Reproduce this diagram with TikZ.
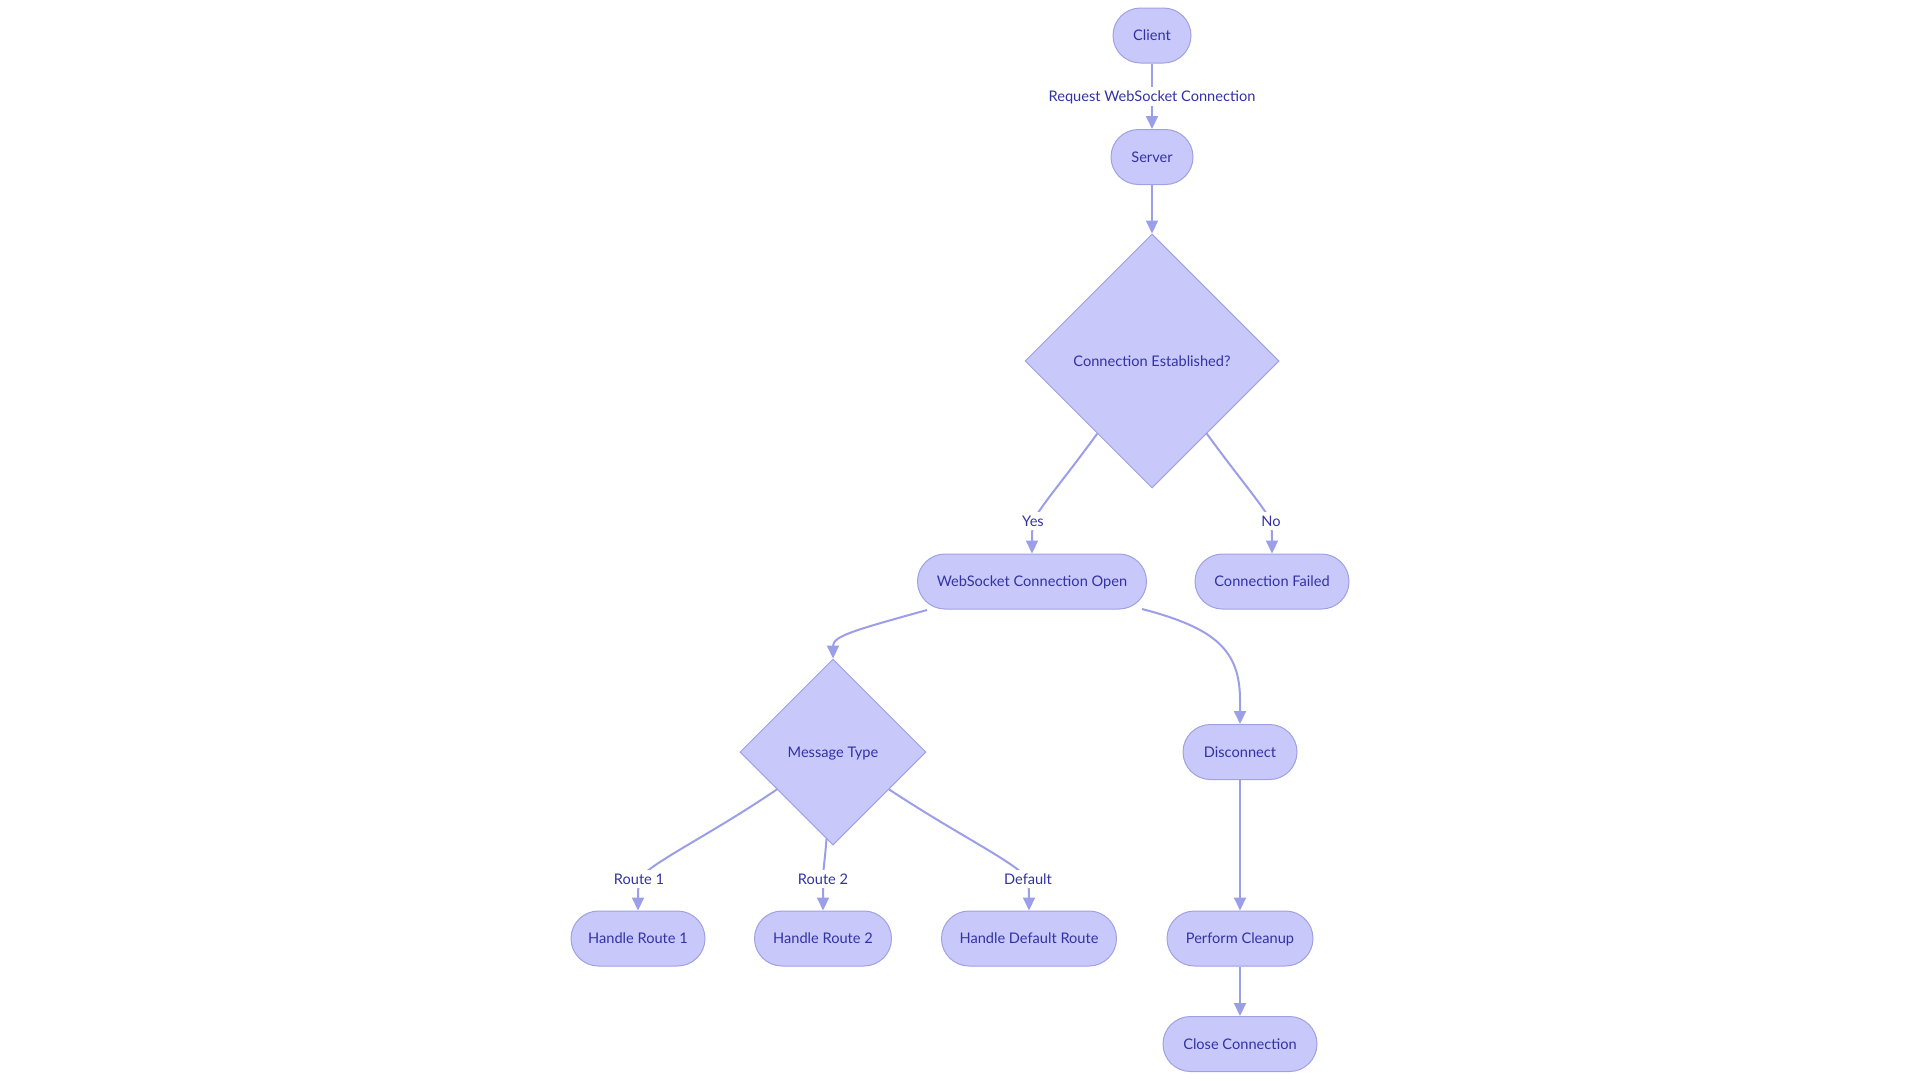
\documentclass[tikz,border=0pt]{standalone}
\usepackage{fontspec}
\setmainfont{Lato}
\usetikzlibrary{shapes.geometric,arrows.meta,calc}
\definecolor{nodefill}{RGB}{200,201,250}
\definecolor{nodeline}{RGB}{160,160,228}
\definecolor{edgecol}{RGB}{155,158,232}
\definecolor{txtcol}{RGB}{50,50,165}
\tikzset{
  txt/.style={text=txtcol, font=\fontsize{14.6}{17}\selectfont, text height=13pt, text depth=2.6pt},
  pill/.style={txt, draw=nodeline, fill=nodefill, line width=1pt, rounded corners=27.5pt,
    minimum height=55pt, inner sep=0pt},
  decision/.style={txt, draw=nodeline, fill=nodefill, line width=1pt, diamond, inner sep=0pt},
  conn/.style={draw=edgecol, line width=2pt, -{Triangle[length=13pt,width=12pt]}},
  elabel/.style={txt, fill=white, inner sep=1.5pt}
}
\begin{document}
\begin{tikzpicture}[x=1pt,y=-1pt]
\useasboundingbox (0,0) rectangle (1920,1080);
% nodes
\node[pill, minimum width=78pt] (client) at (1152,35.5) {Client};
\node[pill, minimum width=82pt] (server) at (1152,157) {Server};
\node[decision, minimum width=254pt, minimum height=254pt] (ce) at (1152,361) {Connection Established?};
\node[pill, minimum width=229pt] (open) at (1032,581.5) {WebSocket Connection Open};
\node[pill, minimum width=154pt] (failed) at (1272,581.5) {Connection Failed};
\node[decision, minimum width=186pt, minimum height=186pt] (mt) at (833,752) {Message Type};
\node[pill, minimum width=114pt] (disc) at (1240,752) {Disconnect};
\node[pill, minimum width=134pt] (r1) at (638,938.5) {Handle Route 1};
\node[pill, minimum width=137pt] (r2) at (823,938.5) {Handle Route 2};
\node[pill, minimum width=175pt] (rd) at (1029,938.5) {Handle Default Route};
\node[pill, minimum width=146pt] (clean) at (1240,938.5) {Perform Cleanup};
\node[pill, minimum width=154pt] (close) at (1240,1044) {Close Connection};
% edges
\draw[conn] (client) -- node[elabel] {Request WebSocket Connection} (server);
\draw[conn] (server) -- (ce);
\draw[conn] ($(ce.south)!0.43!(ce.west)$) .. controls (1065,478) and (1043,503) .. (1033,521)
  node[elabel] {Yes} .. controls (1032,530) and (1032,540) .. (open.north);
\draw[conn] ($(ce.south)!0.43!(ce.east)$) .. controls (1239,478) and (1261,503) .. (1271,521)
  node[elabel] {No} .. controls (1272,530) and (1272,540) .. (failed.north);
\draw[conn] (927,610) .. controls (855,630) and (833,636) .. (mt.north);
\draw[conn] (1142,609) .. controls (1215,628) and (1240,650) .. (1240,700) -- (disc.north);
\draw[conn] ($(mt.south)!0.6!(mt.west)$) .. controls (710,835) and (652,862) .. (639,879)
  node[elabel] {Route 1} .. controls (638,888) and (638,898) .. (r1.north);
\draw[conn] ($(mt.south)!0.07!(mt.west)$) .. controls (825,860) and (823,870) .. (823,879)
  node[elabel] {Route 2} -- (r2.north);
\draw[conn] ($(mt.south)!0.6!(mt.east)$) .. controls (958,835) and (1015,862) .. (1028,879)
  node[elabel] {Default} .. controls (1029,888) and (1029,898) .. (rd.north);
\draw[conn] (disc) -- (clean);
\draw[conn] (clean) -- (close);
\end{tikzpicture}
\end{document}
